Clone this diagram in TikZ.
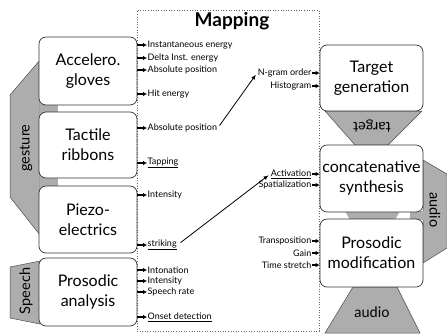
\documentclass[tikz,border=0pt]{standalone}
\usepackage{fontspec}
\setmainfont{Lato}
\usetikzlibrary{arrows.meta}
\begin{document}
\begin{tikzpicture}[x=1pt,y=-1pt,
 box/.style={draw=black!80, line width=0.7pt, rounded corners=7pt, fill=white, align=center,
   font=\fontsize{16}{20}\selectfont, inner sep=0pt},
 lbox/.style={box, minimum width=98pt},
 rbox/.style={box, minimum width=103pt},
 lab/.style={font=\fontsize{9}{10}\selectfont, inner sep=0.5pt},
 sarr/.style={-{Latex[length=4pt,width=4.5pt]}, line width=1.4pt},
 larr/.style={-{Latex[length=5pt,width=4pt]}, line width=0.8pt},
 shade/.style={fill=black!32, draw=black!70, line width=0.5pt},
 band/.style={fill=black!32},
 tag/.style={font=\fontsize{14.5}{16}\selectfont, inner sep=0pt},
]
\useasboundingbox (0,0) rectangle (447,333);
% mapping frame
\node[draw=black!60, dotted, line width=0.6pt, minimum width=182pt, minimum height=321pt, inner sep=0pt] (map) at (228,170.5) {};
\node[font=\bfseries\fontsize{19}{21}\selectfont] (maptitle) at (232,21) {Mapping};
% gray shapes
\draw[shade] (10,95) -- (40,60) -- (40,235) -- (10,197) -- cycle;
\fill[band] (40,104) rectangle (58,113);
\fill[band] (40,177) rectangle (58,187);
\draw[shade] (10,267) -- (40,261) -- (40,324) -- (10,318) -- cycle;
\draw[shade] (325,111) -- (422,111) -- (388,145) -- (355,145) -- cycle;
\fill[band] (345,211) -- (400,211) -- (395,220) -- (350,220) -- cycle;
\draw[shade] (423,160) -- (447,174) -- (447,248) -- (423,263) -- cycle;
\fill[band] (410,211) rectangle (424,220);
\draw[shade] (353,287) -- (397,287) -- (420,333) -- (325,333) -- cycle;
\node[tag, rotate=90] (gest) at (26,148) {gesture};
\node[tag, rotate=90] (speech) at (26,291) {Speech};
\node[tag, rotate=180] (tgt) at (372,126) {target};
\node[tag, rotate=-90] (aud1) at (435,210) {audio};
\node[tag] (aud2) at (372,312) {audio};
% boxes
\node[lbox, minimum height=68pt] (acc) at (88,71) {Accelero.\\gloves};
\node[lbox, minimum height=66pt] (tac) at (88,145) {Tactile\\ribbons};
\node[lbox, minimum height=67pt] (pie) at (88,219.5) {Piezo-\\electrics};
\node[lbox, minimum height=68pt] (pan) at (88,292) {Prosodic\\analysis};
\node[rbox, minimum height=66pt] (tg) at (371.5,78) {Target\\generation};
\node[rbox, minimum height=67pt] (cs) at (371.5,178.5) {concatenative\\synthesis};
\node[rbox, minimum height=68pt] (pm) at (371.5,253) {Prosodic\\modification};
% left labels
\node[lab, anchor=west] (m1) at (147,45) {Instantaneous energy};
\node[lab, anchor=west] (m2) at (147,58) {Delta Inst. energy};
\node[lab, anchor=west] (m3) at (147,70) {Absolute position};
\node[lab, anchor=west] (m4) at (147,94) {Hit energy};
\node[lab, anchor=west] (m5) at (147,128) {Absolute position};
\node[lab, anchor=west] (m6) at (147,163) {\underline{Tapping}};
\node[lab, anchor=west] (m7) at (147,195) {Intensity};
\node[lab, anchor=west] (m8) at (147,245) {\underline{striking}};
\node[lab, anchor=west] (m9) at (147,270) {Intonation};
\node[lab, anchor=west] (m10) at (147,281) {Intensity};
\node[lab, anchor=west] (m11) at (147,292) {Speech rate};
\node[lab, anchor=west] (m12) at (147,317) {\underline{Onset detection}};
\foreach \b/\m in {acc/m1,acc/m2,acc/m3,acc/m4,tac/m5,tac/m6,pie/m7,pie/m8,pan/m9,pan/m10,pan/m11,pan/m12}
  \draw[sarr] (\b.east |- \m.west) -- (\m.west);
% right labels
\node[lab, anchor=east] (r1) at (312,73) {N-gram order};
\node[lab, anchor=east] (r2) at (312,86) {Histogram};
\node[lab, anchor=east] (r3) at (312,174) {\underline{Activation}};
\node[lab, anchor=east] (r4) at (312,185) {Spatialization};
\node[lab, anchor=east] (r5) at (312,241) {Transposition};
\node[lab, anchor=east] (r6) at (312,253) {Gain};
\node[lab, anchor=east] (r7) at (312,265) {Time stretch};
\foreach \b/\r in {tg/r1,tg/r2,cs/r3,cs/r4,pm/r5,pm/r6,pm/r7}
  \draw[sarr] (\r.east) -- (\r.east -| \b.west);
% long arrows
\draw[larr, shorten <=3pt, shorten >=2pt] (m5.east) -- (r1.west);
\draw[larr, shorten <=4pt, shorten >=2pt] (m8.east) -- (r3.west);
\end{tikzpicture}
\end{document}
